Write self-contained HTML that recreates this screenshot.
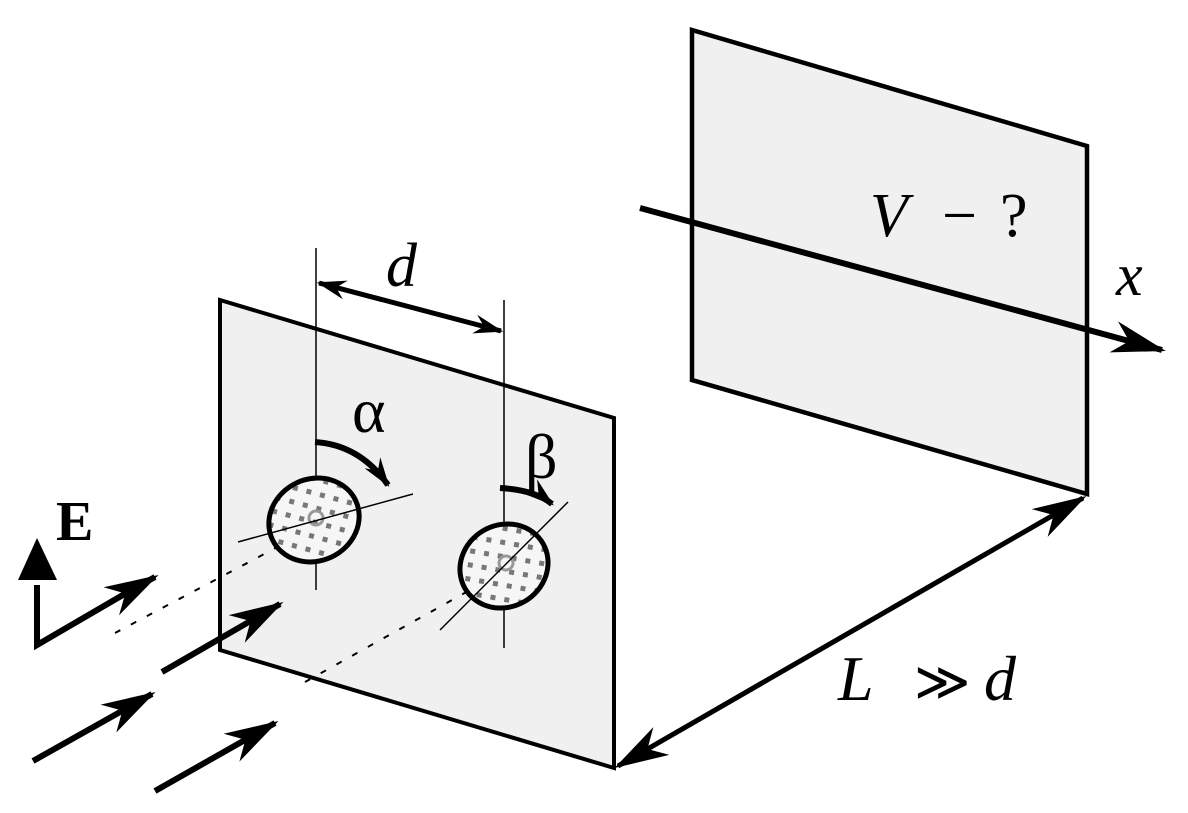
<!DOCTYPE html>
<html><head><meta charset="utf-8"><style>
html,body{margin:0;padding:0;background:#fff;}
svg{display:block;}
text{font-family:"Liberation Serif",serif;fill:#000;}
</style></head><body>
<svg width="1188" height="813" viewBox="0 0 1188 813" xmlns="http://www.w3.org/2000/svg">
<defs>
<marker id="ah" markerUnits="userSpaceOnUse" markerWidth="70" markerHeight="40" refX="0" refY="0" viewBox="-60 -20 70 40" orient="auto" overflow="visible">
<path d="M4,0 L-50,-16 L-34,0 L-50,16 Z" fill="#000"/>
</marker>
<marker id="ahr" markerUnits="userSpaceOnUse" markerWidth="70" markerHeight="40" refX="0" refY="0" viewBox="-60 -20 70 40" orient="auto-start-reverse" overflow="visible">
<path d="M4,0 L-50,-16 L-34,0 L-50,16 Z" fill="#000"/>
</marker>
<marker id="ahs" markerUnits="userSpaceOnUse" markerWidth="40" markerHeight="30" refX="0" refY="0" viewBox="-40 -15 50 30" orient="auto" overflow="visible">
<path d="M3,0 L-34,-12 L-22,0 L-34,12 Z" fill="#000"/>
</marker>
<marker id="ahsr" markerUnits="userSpaceOnUse" markerWidth="40" markerHeight="30" refX="0" refY="0" viewBox="-40 -15 50 30" orient="auto-start-reverse" overflow="visible">
<path d="M3,0 L-34,-12 L-22,0 L-34,12 Z" fill="#000"/>
</marker>
<pattern id="chk" width="14" height="14" patternUnits="userSpaceOnUse" patternTransform="rotate(40)">
<rect width="14" height="14" fill="#f6f6f6"/>
<rect x="0" y="0" width="5" height="5" fill="#777"/>
</pattern>
</defs>

<polygon points="692,30 1087,146 1087,494 692,380" fill="#f0f0f0" stroke="#000" stroke-width="4.5"/>
<text x="870" y="236" font-size="62" font-style="italic">V</text>
<text x="942" y="236" font-size="62">−</text>
<text x="1000" y="236" font-size="62">?</text>
<line x1="640" y1="208" x2="1162" y2="350" stroke="#000" stroke-width="6" marker-end="url(#ah)"/>
<text x="1116" y="295" font-size="60" font-style="italic">x</text>

<line x1="618" y1="766" x2="1083" y2="498" stroke="#000" stroke-width="5" marker-start="url(#ahr)" marker-end="url(#ah)"/>
<text x="838" y="700" font-size="64" font-style="italic">L</text>
<text x="914" y="700" font-size="54">≫</text>
<text x="984" y="700" font-size="64" font-style="italic">d</text>

<polygon points="220,300 614,418 614,768 220,650" fill="#f0f0f0" stroke="#000" stroke-width="4"/>

<line x1="115" y1="633" x2="285" y2="543" stroke="#000" stroke-width="2" stroke-dasharray="6,12"/>
<line x1="305" y1="682" x2="470" y2="590" stroke="#000" stroke-width="2" stroke-dasharray="6,12"/>

<line x1="316" y1="248" x2="316" y2="590" stroke="#000" stroke-width="1.5"/>
<line x1="504" y1="300" x2="504" y2="648" stroke="#000" stroke-width="1.5"/>
<line x1="319" y1="283" x2="501" y2="331" stroke="#000" stroke-width="5" marker-start="url(#ahsr)" marker-end="url(#ahs)"/>
<text x="386" y="286" font-size="62" font-style="italic">d</text>

<ellipse cx="314" cy="520" rx="46" ry="41" transform="rotate(-25 314 520)" fill="url(#chk)" stroke="#000" stroke-width="5"/>
<circle cx="316" cy="518" r="7" fill="none" stroke="#999" stroke-width="3"/>
<ellipse cx="504" cy="566" rx="45" ry="41" transform="rotate(-30 504 566)" fill="url(#chk)" stroke="#000" stroke-width="5"/>
<circle cx="506" cy="563" r="7" fill="none" stroke="#999" stroke-width="3"/>
<line x1="238" y1="542" x2="413" y2="494" stroke="#000" stroke-width="1.5"/>
<line x1="440" y1="630" x2="568" y2="502" stroke="#000" stroke-width="1.5"/>

<path d="M315,442 Q360,445 388,485" fill="none" stroke="#000" stroke-width="6" marker-end="url(#ahs)"/>
<text x="352" y="432" font-size="64">α</text>
<path d="M500,488 Q535,490 552,504" fill="none" stroke="#000" stroke-width="6" marker-end="url(#ahs)"/>
<text x="525" y="478" font-size="64">β</text>

<text x="56" y="540" font-size="56" font-weight="bold">E</text>
<polyline points="37,585 37,645 140,585" fill="none" stroke="#000" stroke-width="6"/>
<polygon points="37,538 18,580 57,580" fill="#000"/>
<line x1="137" y1="587" x2="155" y2="577" stroke="#000" stroke-width="6" marker-end="url(#ah)"/>
<line x1="162" y1="672" x2="280" y2="604" stroke="#000" stroke-width="6" marker-end="url(#ah)"/>
<line x1="33" y1="761" x2="152" y2="694" stroke="#000" stroke-width="6" marker-end="url(#ah)"/>
<line x1="155" y1="791" x2="275" y2="723" stroke="#000" stroke-width="6" marker-end="url(#ah)"/>
</svg>
</body></html>
